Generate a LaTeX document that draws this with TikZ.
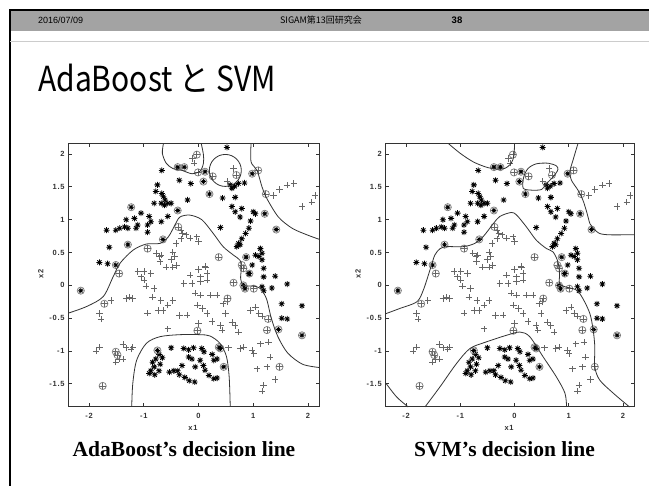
\documentclass[tikz,border=0pt]{standalone}
\usepackage{fontspec}
\setmainfont{Liberation Serif}
\newfontfamily\hdrfont{Liberation Sans}
\newfontfamily\tickfont[LetterSpace=10]{Liberation Sans}
\newfontfamily\jpfont{Noto Sans CJK JP}
\newfontfamily\titlefont[FakeStretch=0.87]{Noto Sans CJK JP}

\definecolor{hdrgray}{HTML}{A3A3A3}
\definecolor{rulegray}{HTML}{CCCCCC}
\definecolor{plusgray}{HTML}{666666}
\definecolor{ringgray}{HTML}{7A7A7A}
\definecolor{axisgray}{HTML}{333333}

\tikzset{
  hdrtext/.style={font=\hdrfont\fontsize{9}{10}\selectfont},
  ticklbl/.style={font=\tickfont\bfseries\fontsize{7.5}{8}\selectfont, text=black!80},
  axis/.style={draw=axisgray, line width=0.9pt},
  boundary/.style={draw=axisgray, line width=0.8pt},
  pluspen/.style={draw=plusgray, line width=0.75pt},
  starpen/.style={draw=black, line width=0.8pt},
  ringpen/.style={draw=ringgray, line width=0.7pt},
  caption/.style={font=\bfseries\fontsize{21.5}{24}\selectfont, anchor=base},
}

% the same samples in both panels
\newcommand\plusdata{-0.11/1.93, -0.08/1.86, 0.64/1.78, 0.52/1.59, 1.37/1.37, 1.48/1.46,
  1.62/1.53, 1.74/1.55, 2.13/1.37, 2.07/1.27, 1.89/1.20,
  -0.32/0.84, -0.29/0.79, -0.23/0.77, -0.32/0.71, -0.41/0.64, -0.15/0.72, -0.03/0.74, 0.0/0.67,
  -0.77/0.49, -0.71/0.44, -0.68/0.46, -0.47/0.51, -0.44/0.44, -0.50/0.39, -0.59/0.28,
  -0.47/0.28, -0.70/0.36, -0.40/0.30,
  -1.11/0.21, -0.99/0.21, -0.87/0.18, -1.05/0.13, -0.99/0.08, -0.96/-0.01, -0.81/-0.05,
  -0.84/-0.18, -0.69/-0.23, -0.56/-0.30, -0.47/-0.23, -0.65/-0.38, -0.74/-0.38, -0.93/-0.42,
  -0.35/-0.46, -1.32/-0.20, -1.26/-0.18, -1.20/-0.20,
  -0.15/0.16, 0.04/0.13, 0.13/0.28, 0.16/0.18, 0.16/0.08, 0.04/0.06, -0.12/0.03, -0.27/0.03,
  -0.06/-0.12, 0.04/-0.15, 0.22/-0.15, 0.34/-0.15, 0.0/0.24, 0.12/0.29,
  -0.02/-0.30, 0.07/-0.35, 0.16/-0.43, -0.21/-0.45, 0.45/-0.28, 0.52/-0.25,
  0.49/-0.43, 0.61/-0.56, 0.67/-0.61, 0.73/-0.71, 0.95/-0.38, 1.04/-0.33, 1.10/-0.43, 1.16/-0.47,
  0.40/-0.61, 0.43/-0.68, 0.0/-0.58, -0.56/-0.66, 0.25/-0.55,
  0.55/-0.95, 0.76/-0.96, 0.82/-0.94, 0.98/-0.99, 1.01/-1.04, 1.13/-0.89, 1.28/-0.86,
  1.31/-1.09, 1.07/-1.27, 1.25/-1.24, 1.40/-1.43, 1.19/-1.52, 1.16/-1.61,
  -1.60/-0.23, -1.81/-0.43, -1.78/-0.51, -1.87/-1.0, -1.81/-0.94, -1.38/-0.90, -1.32/-0.95,
  -1.23/-0.97, -1.20/-0.94, -1.51/-1.17, -1.38/-1.12, -1.45/-1.12}
\newcommand\stardata{0.52/2.10, -0.67/1.75, -0.35/1.60, -0.14/1.55, -0.75/1.53, -0.78/1.43,
  -0.67/1.40, -0.64/1.35, -0.61/1.30, -0.81/1.25, -0.68/1.25, -0.62/1.22, -0.56/1.25,
  -0.50/1.25, -0.20/1.30,
  0.58/1.53, 0.61/1.48, 0.66/1.51, 0.73/1.55, 0.84/1.56, 0.44/1.33, 0.67/1.34, 0.61/1.20,
  0.67/1.12, 0.79/1.17, 0.76/1.04, 1.04/1.09, 1.00/1.12, 0.40/0.88,
  0.95/0.98, 0.92/0.87, 0.86/0.79, 0.79/0.71, 0.73/0.64, 0.70/0.59, 0.76/0.62, 1.13/0.56,
  1.16/0.49, 1.10/0.44, 1.04/0.46, 0.98/0.31, 1.16/0.39, 1.19/0.26,
  -1.05/1.10, -1.17/1.02, -1.32/1.00, -1.44/0.87, -1.51/0.84, -1.35/0.89, -1.29/0.87,
  -0.90/1.05, -0.87/0.97, -0.93/0.92, -1.14/0.87, -1.11/0.92, -0.56/1.05, -0.68/0.97,
  -0.93/0.81, -1.68/0.84, -1.63/0.58, -1.81/0.35, -1.66/0.33,
  0.92/0.18, 1.19/0.13, 1.40/0.14, 1.16/-0.02, 1.19/-0.08, 1.34/-0.04, 1.62/0.02, 1.52/-0.28,
  1.89/-0.31, 1.62/-0.51, 1.52/-0.50,
  -0.72/-1.05, -0.78/-1.12, -0.84/-1.17, -0.81/-1.24, -0.87/-1.30, -0.90/-1.34, -0.80/-1.36,
  -0.72/-1.30, -0.70/-1.20, -0.66/-1.10, -0.50/-0.95, -0.53/-1.32, -0.45/-1.30, -0.35/-1.36,
  -0.25/-1.40, -0.17/-1.45, -0.07/-1.47, -0.27/-0.96, -0.18/-0.98, -0.18/-1.09, -0.12/-1.12,
  -0.09/-0.95, -0.06/-1.24, 0.03/-1.14, 0.09/-1.22, 0.12/-1.29, 0.19/-1.37, 0.28/-1.42,
  0.34/-1.41, 0.10/-1.01, 0.06/-0.96, 0.34/-1.12, 0.28/-1.14, 0.25/-1.05, -0.30/-1.22,
  -0.38/-1.30}
\newcommand\ringplusdata{-0.03/1.99, -0.01/1.72, 0.26/1.66, 0.69/1.68, 1.09/1.75, 1.23/1.39,
  -0.93/0.56, -0.37/0.89, 0.37/0.43, 0.79/0.31, 0.82/0.26, -1.45/0.18, 0.64/0.04, 1.01/-0.05,
  0.53/-0.20, -1.72/-0.28, -0.02/-0.69, 1.27/-0.51, 1.25/-0.68, 1.48/-1.24, -1.51/-1.01,
  -1.48/-1.06, -1.75/-1.53}
\newcommand\ringstardata{-0.38/1.80, -0.26/1.80, 0.12/1.73, 0.09/1.58, 0.98/1.70, 0.20/1.39,
  -1.23/1.19, -0.38/1.14, 1.21/1.09, 1.42/0.85, -1.29/0.62, -0.65/0.70, -1.51/0.31, 0.87/0.43,
  0.93/0.18, 0.82/0.0, 0.85/-0.05, 1.46/-0.67, 1.89/-0.76, -2.15/-0.08, -0.75/-0.99,
  0.37/-0.94, 0.40/-0.96, 0.46/-1.24}

% frame, ticks, labels and samples of one panel (data units)
\newcommand\drawpanel[1]{%
  \draw[axis] (-2.37,-1.85) rectangle (2.21,2.16);
  \foreach \t [count=\i] in {-2,-1,0,1,2} {
    \draw[axis] (\t,-1.85) -- ++(0,3.5pt) (\t,2.16) -- ++(0,-3.5pt);
    \path (\t,-1.85) ++(0,-6pt) node[ticklbl, anchor=north] (#1x\i) {\t};
  }
  \foreach \t [count=\i] in {-1.5,-1,-0.5,0,0.5,1,1.5,2} {
    \draw[axis] (-2.37,\t) -- ++(3.5pt,0) (2.21,\t) -- ++(-3.5pt,0);
    \path (-2.37,\t) ++(-4pt,0) node[ticklbl, anchor=east] (#1y\i) {\t};
  }
  \path (-0.1,-1.85) ++(0,-18pt) node[ticklbl, anchor=north] (#1xlab) {x1};
  \path (-2.37,0.17) ++(-28pt,0) node[ticklbl, rotate=90] (#1ylab) {x2};
  \foreach \x/\y in \plusdata
    \draw[pluspen] (\x,\y) +(-3.2pt,0) -- +(3.2pt,0) +(0,-3.2pt) -- +(0,3.2pt);
  \foreach \x/\y in \stardata
    \draw[starpen] (\x,\y) +(-3pt,0) -- +(3pt,0) +(0,-3pt) -- +(0,3pt)
      +(-2.1pt,-2.1pt) -- +(2.1pt,2.1pt) +(-2.1pt,2.1pt) -- +(2.1pt,-2.1pt);
  \foreach \x/\y in \ringplusdata {
    \draw[ringpen] (\x,\y) circle[radius=3.6pt];
    \draw[pluspen] (\x,\y) +(-3.2pt,0) -- +(3.2pt,0) +(0,-3.2pt) -- +(0,3.2pt);
  }
  \foreach \x/\y in \ringstardata {
    \draw[ringpen] (\x,\y) circle[radius=3.6pt];
    \draw[starpen] (\x,\y) +(-2.6pt,0) -- +(2.6pt,0) +(0,-2.6pt) -- +(0,2.6pt)
      +(-1.8pt,-1.8pt) -- +(1.8pt,1.8pt) +(-1.8pt,1.8pt) -- +(1.8pt,-1.8pt);
  }
}

\begin{document}
\begin{tikzpicture}[x=1pt, y=-1pt, every node/.style={inner sep=0pt}]
  \useasboundingbox (0,0) rectangle (649,486);
  \fill[white] (0,0) rectangle (649,486);

  % slide header
  \fill[hdrgray] (10,10) rectangle (649,31);
  \draw[black, line width=2pt] (10,486) -- (10,10) -- (649,10);
  \draw[rulegray, line width=0.8pt] (10,41.5) -- (649,41.5);
  \node[hdrtext, anchor=west] (date) at (38,20.5) {2016/07/09};
  \node[hdrtext, font=\jpfont\fontsize{9}{10}\selectfont] (event) at (321,20.5) {SIGAM第13回研究会};
  \node[hdrtext, font=\hdrfont\bfseries\fontsize{9.5}{10}\selectfont] (page) at (457,20.5) {38};

  % title
  \node[anchor=base west, font=\titlefont\fontsize{34.5}{38}\selectfont] (title) at (38,92) {AdaBoost と SVM};

  % AdaBoost panel
  \begin{scope}[shift={(198.5,285.4)}, x=54.75pt, y=65.7pt]
    \drawpanel{ada}
    \draw[boundary] plot[smooth] coordinates {(-2.37,-0.42) (-2.04,-0.32) (-1.74,-0.17)
      (-1.56,0.13) (-1.43,0.34) (-1.19,0.54) (-0.95,0.63) (-0.70,0.64) (-0.55,0.74) (-0.43,0.92)
      (-0.34,1.04) (-0.16,1.07) (0.06,1.0) (0.27,0.79) (0.45,0.59) (0.64,0.46) (0.76,0.38)
      (0.78,0.25) (0.77,0.10) (0.82,0.0) (0.98,-0.01) (1.12,-0.04) (1.24,-0.20) (1.33,-0.50)
      (1.45,-0.78) (1.63,-1.03) (1.90,-1.20) (2.21,-1.25)};
    \draw[boundary] plot[smooth] coordinates {(-1.22,-1.85) (-1.20,-1.49) (-1.13,-1.14)
      (-0.95,-0.88) (-0.70,-0.78) (-0.34,-0.75) (0.03,-0.75) (0.21,-0.77) (0.39,-0.88)
      (0.51,-1.08) (0.56,-1.39) (0.58,-1.85)};
    \draw[boundary] plot[smooth] coordinates {(-0.64,2.16) (-0.66,2.01) (-0.59,1.86)
      (-0.47,1.78) (-0.30,1.75) (-0.12,1.70) (0.03,1.74) (0.09,1.86) (0.09,1.99) (0.05,2.16)};
    \draw[boundary] (0.49,1.75) circle[radius=16pt];
    \draw[boundary] plot[smooth] coordinates {(0.96,2.16) (0.96,1.88) (1.07,1.75)
      (1.16,1.50) (1.25,1.32) (1.46,1.04) (1.71,0.87) (1.98,0.77) (2.21,0.70)};
  \end{scope}
  \node[caption] (adacap) at (184,457) {AdaBoost’s decision line};

  % SVM panel
  \begin{scope}[shift={(514.5,285.4)}, x=54.25pt, y=65.7pt]
    \drawpanel{svm}
    \draw[boundary] plot[smooth] coordinates {(-1.22,2.16) (-1.0,2.01) (-0.76,1.88)
      (-0.52,1.80) (-0.33,1.77) (-0.18,1.78) (-0.06,1.86) (-0.01,1.98) (0.0,2.16)};
    \draw[boundary] plot[smooth cycle] coordinates {(0.16,1.48) (0.17,1.65) (0.25,1.78)
      (0.40,1.85) (0.62,1.86) (0.77,1.82) (0.80,1.76) (0.71,1.65) (0.59,1.55) (0.50,1.46)
      (0.31,1.45)};
    \draw[boundary] plot[smooth] coordinates {(1.17,2.16) (1.08,1.91) (1.02,1.73)
      (1.05,1.60) (1.17,1.45) (1.26,1.30) (1.33,1.12) (1.39,0.94) (1.45,0.87) (1.57,0.79)
      (1.75,0.77) (2.06,0.77) (2.21,0.77)};
    \draw[boundary] plot[smooth] coordinates {(-2.37,-0.43) (-2.11,-0.35) (-1.80,-0.25)
      (-1.68,-0.07) (-1.56,0.23) (-1.47,0.46) (-1.37,0.56) (-1.25,0.59) (-0.94,0.59)
      (-0.73,0.64) (-0.58,0.74) (-0.39,0.94) (-0.27,1.05) (-0.06,1.11) (0.04,1.07) (0.22,0.89)
      (0.40,0.69) (0.59,0.56) (0.71,0.51) (0.80,0.36) (0.83,0.18) (0.83,0.03) (0.93,-0.02)
      (1.14,-0.07) (1.26,-0.20) (1.39,-0.43) (1.45,-0.68) (1.48,-0.93) (1.48,-1.24)
      (1.57,-1.44) (1.82,-1.64) (2.12,-1.85)};
    \draw[boundary] plot[smooth] coordinates {(-2.37,-1.49) (-2.17,-1.70) (-1.96,-1.85)};
    \draw[boundary] plot[smooth] coordinates {(-1.65,-1.85) (-1.37,-1.54) (-1.07,-1.19)
      (-0.82,-0.96) (-0.52,-0.86) (-0.15,-0.76) (0.10,-0.71) (0.28,-0.78) (0.53,-1.09)
      (0.77,-1.39) (0.93,-1.64) (0.96,-1.85)};
  \end{scope}
  \node[caption] (svmcap) at (504.5,457) {SVM’s decision line};
\end{tikzpicture}
\end{document}
